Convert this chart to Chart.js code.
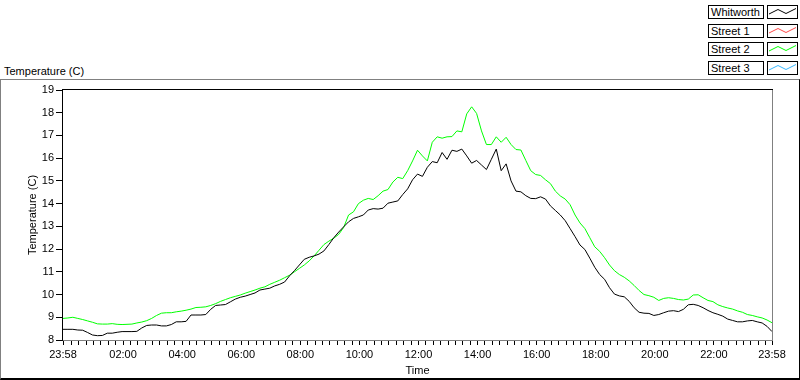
<!DOCTYPE html>
<html><head><meta charset="utf-8">
<script src="https://cdn.jsdelivr.net/npm/chart.js@4.4.1/dist/chart.umd.min.js"></script>
<style>
html,body{margin:0;padding:0;background:#fff;}
#wrap{position:relative;width:800px;height:380px;overflow:hidden;font-family:'Liberation Sans',Arial,sans-serif;font-size:11px;color:#000;background:#fff;}
#frame{position:absolute;left:0;top:79px;width:798px;height:298px;border-top:1px solid #808080;border-left:1px solid #808080;border-right:1px solid #000;border-bottom:2px solid #000;}
#title{position:absolute;left:4px;top:65px;line-height:13px;white-space:nowrap;}
canvas{position:absolute;left:0;top:0;}
.lab{position:absolute;left:708px;width:56px;height:14px;box-sizing:border-box;border:1px solid #000;line-height:12px;padding-left:2px;white-space:nowrap;background:#fff;}
.smp{position:absolute;left:767px;width:31px;height:14px;box-sizing:border-box;border:1px solid #000;background:#fff;}
.smp svg{position:absolute;left:0;top:0;}
</style>
</head><body>
<div id="wrap">
  <div id="frame"></div>
  <div id="title">Temperature (C)</div>
  <canvas id="c" width="800" height="380"></canvas>
  <div id="legend"></div>
</div>
<script>
// ---- data ----
const seriesNames = ['Whitworth', 'Street 1', 'Street 2', 'Street 3'];
const seriesColors = ['#000000', '#ff4848', '#00ff00', '#38b8ff'];
// minutes after 23:58 (one sample every 10 minutes, 24 h)
const sampleMinutes = Array.from({length: 145}, (_, i) => i * 10);
const whitworth = [
  8.47, 8.47, 8.47, 8.44, 8.43, 8.33, 8.22, 8.19, 8.2, 8.3, 8.3, 8.34,
  8.37, 8.37, 8.37, 8.38, 8.53, 8.64, 8.66, 8.66, 8.62, 8.62, 8.68, 8.8,
  8.8, 8.82, 9.1, 9.1, 9.1, 9.12, 9.35, 9.52, 9.54, 9.56, 9.68, 9.8,
  9.88, 9.93, 10.0, 10.07, 10.2, 10.24, 10.28, 10.38, 10.45, 10.55, 10.82, 11.05,
  11.3, 11.55, 11.64, 11.7, 11.78, 11.92, 12.2, 12.5, 12.75, 12.98, 13.2, 13.35,
  13.42, 13.5, 13.72, 13.78, 13.76, 13.8, 14.02, 14.07, 14.12, 14.4, 14.65, 15.05,
  15.3, 15.2, 15.6, 15.85, 15.8, 16.25, 15.95, 16.35, 16.3, 16.4, 16.1, 15.78,
  15.9, 15.7, 15.5, 15.95, 16.4, 15.45, 15.75, 15.0, 14.55, 14.52, 14.35, 14.23,
  14.22, 14.3, 14.2, 13.9, 13.7, 13.5, 13.25, 12.9, 12.55, 12.18, 11.98, 11.6,
  11.2, 10.88, 10.67, 10.3, 10.02, 9.94, 9.9, 9.7, 9.42, 9.22, 9.18, 9.17,
  9.08, 9.12, 9.2, 9.27, 9.29, 9.25, 9.35, 9.55, 9.57, 9.52, 9.42, 9.3,
  9.2, 9.13, 9.05, 8.92, 8.86, 8.8, 8.8, 8.84, 8.86, 8.8, 8.75, 8.6,
  8.37
];
const streetOne = [];
const streetTwo = [
  8.95, 8.97, 9.0, 8.95, 8.9, 8.84, 8.78, 8.71, 8.70, 8.70, 8.72, 8.69,
  8.68, 8.69, 8.70, 8.75, 8.79, 8.85, 8.95, 9.08, 9.18, 9.2, 9.2, 9.24,
  9.27, 9.31, 9.36, 9.43, 9.44, 9.46, 9.52, 9.6, 9.7, 9.78, 9.86, 9.92,
  9.98, 10.06, 10.13, 10.2, 10.28, 10.34, 10.45, 10.54, 10.63, 10.74, 10.85, 11.0,
  11.15, 11.3, 11.48, 11.7, 11.95, 12.2, 12.35, 12.48, 12.65, 12.95, 13.5, 13.64,
  14.0, 14.15, 14.23, 14.18, 14.35, 14.55, 14.62, 14.95, 15.16, 15.1, 15.45, 15.88,
  16.35, 16.1, 15.88, 16.7, 16.94, 16.88, 16.94, 16.95, 17.2, 17.16, 17.95, 18.26,
  17.97, 17.2, 16.6, 16.6, 16.94, 16.7, 16.92, 16.6, 16.38, 16.36, 15.9, 15.45,
  15.28, 15.24, 15.05, 14.88, 14.55, 14.34, 14.2, 13.95, 13.5, 13.15, 12.9, 12.5,
  12.1, 11.9, 11.62, 11.3, 11.05, 10.88, 10.76, 10.6, 10.4, 10.18, 10.0, 9.95,
  9.88, 9.74, 9.83, 9.86, 9.83, 9.78, 9.76, 9.8, 9.98, 9.99, 9.86, 9.74,
  9.69, 9.55, 9.47, 9.41, 9.36, 9.28, 9.22, 9.12, 9.08, 9.02, 8.97, 8.88,
  8.76
];
const streetThree = [];
// x-axis labelled ticks (minutes after 23:58) and their texts
const xTickMinutes = [0, 122, 242, 362, 482, 602, 722, 842, 962, 1082, 1202, 1322, 1440];
const xTickLabels = ['23:58', '02:00', '04:00', '06:00', '08:00', '10:00', '12:00', '14:00', '16:00', '18:00', '20:00', '22:00', '23:58'];
const yTickValues = [8, 9, 10, 11, 12, 13, 14, 15, 16, 17, 18, 19];

// ---- legend (HTML) ----
const legendTops = [5, 24, 42, 61];
const leg = document.getElementById('legend');
seriesNames.forEach((n, i) => {
  const l = document.createElement('div');
  l.className = 'lab'; l.style.top = legendTops[i] + 'px'; l.textContent = n;
  leg.appendChild(l);
  const s = document.createElement('div');
  s.className = 'smp'; s.style.top = legendTops[i] + 'px';
  s.innerHTML = '<svg width="29" height="12"><polyline points="1,8 10,3.5 18,7.5 28,2.5" fill="none" stroke="' + seriesColors[i] + '" stroke-width="1"/></svg>';
  leg.appendChild(s);
});

// ---- chart ----
Chart.defaults.font.family = "'Liberation Sans', Arial, sans-serif";
Chart.defaults.font.size = 11;
Chart.defaults.color = '#000';

const seriesData = [whitworth, streetOne, streetTwo, streetThree];
const datasets = seriesNames.map((n, i) => ({
  label: n,
  data: seriesData[i].map((v, k) => ({x: sampleMinutes[k], y: v})),
  borderColor: seriesColors[i],
  backgroundColor: seriesColors[i],
  borderWidth: 1,
  pointRadius: 0,
  tension: 0,
  fill: false
}));

const minorTicks = [];
for (let m = 2; m < 1440; m += 15) minorTicks.push(m);
const allXTicks = Array.from(new Set([...xTickMinutes, ...minorTicks])).sort((a, b) => a - b);

const framePlugin = {
  id: 'frame',
  afterDraw(chart) {
    const {ctx, chartArea: a} = chart;
    const L = Math.round(a.left) - 1, T = Math.round(a.top) - 1, R = Math.round(a.right), B = Math.round(a.bottom);
    ctx.save();
    ctx.fillStyle = '#808080';
    ctx.fillRect(R, T, 1, B - T + 1);
    ctx.fillRect(L, B, R - L + 1, 1);
    ctx.fillStyle = '#000';
    ctx.fillRect(L, T, R - L + 1, 1);
    ctx.fillRect(L, T, 1, B - T + 1);
    ctx.restore();
  }
};

new Chart(document.getElementById('c'), {
  type: 'line',
  data: {datasets},
  options: {
    responsive: false,
    animation: false,
    devicePixelRatio: 1,
    layout: {padding: {top: 90, right: 28, left: 0, bottom: 0}},
    plugins: {legend: {display: false}, tooltip: {enabled: false}},
    scales: {
      x: {
        type: 'linear', min: 0, max: 1440,
        afterBuildTicks(scale) { scale.ticks = allXTicks.map(v => ({value: v})); },
        afterFit(scale) { scale.height = 40; },
        ticks: {
          autoSkip: false, maxRotation: 0, minRotation: 0, padding: 3, color: '#000',
          callback(v) { const i = xTickMinutes.indexOf(v); return i >= 0 ? xTickLabels[i] : ''; }
        },
        grid: {display: true, drawOnChartArea: false, drawTicks: true, tickLength: 5, tickColor: '#000', tickWidth: 1},
        border: {display: false},
        title: {display: true, text: 'Time', color: '#000', padding: {top: 0, bottom: 2}}
      },
      y: {
        type: 'linear', min: 8, max: 19,
        afterBuildTicks(scale) { scale.ticks = yTickValues.map(v => ({value: v})); },
        afterFit(scale) { scale.width = 63; },
        ticks: {padding: 2, color: '#000'},
        grid: {display: true, drawOnChartArea: false, drawTicks: true, tickLength: 7, tickColor: '#000', tickWidth: 1},
        border: {display: false},
        title: {display: true, text: 'Temperature (C)', color: '#000', padding: {top: 26, bottom: 0}}
      }
    }
  },
  plugins: [framePlugin]
});
</script>
</body></html>
